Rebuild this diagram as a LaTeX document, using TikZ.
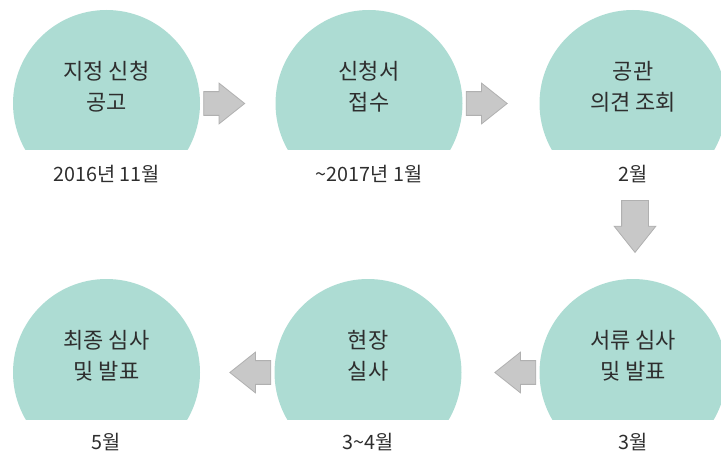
\documentclass[tikz,border=0pt]{standalone}
\usepackage{fontspec}
\setmainfont{Noto Sans CJK KR}
\usetikzlibrary{positioning, shapes.arrows}

\definecolor{stagegreen}{HTML}{ADDCD3}
\definecolor{arrowgray}{HTML}{C8C8C8}
\definecolor{arrowline}{HTML}{B0B0B0}
\definecolor{textgray}{HTML}{2E2E2E}

\begin{document}
\begin{tikzpicture}[x=0.75pt, y=-0.75pt, node distance=2.25pt]

        % Styles
        \tikzstyle{stage} = [circle, fill=stagegreen, minimum size=140.25pt, inner sep=0pt]
        \tikzstyle{stagetitle} = [text=textgray, align=center, inner sep=0pt, font=\fontsize{16.5}{23.25}\selectfont]
        \tikzstyle{stagedate} = [text=textgray, inner sep=0pt, font=\fontsize{14.8}{16}\selectfont]
        \tikzstyle{flow} = [single arrow, fill=arrowgray, draw=arrowline, line width=0.6pt, inner xsep=0pt, inner ysep=8.6pt, minimum height=30.75pt, single arrow head extend=6.4pt, single arrow tip angle=77]

        \clip (0,0) rectangle (721,456);

        % Circles (cut flat at the bottom)
        \begin{scope}
            \clip (0,0) rectangle (721,150);
            \node [stage] (notice) at (106.5,103.5) {};
            \node [stage] (apply) at (369,103.5) {};
            \node [stage] (opinion) at (633,103.5) {};
        \end{scope}
        \begin{scope}
            \clip (0,270) rectangle (721,419);
            \node [stage] (final) at (106.5,372.5) {};
            \node [stage] (site) at (368,372.5) {};
            \node [stage] (paper) at (633,372.5) {};
        \end{scope}

        % Texts
        \node [stagetitle] (notice-text) at (106.5,86.5) {지정 신청\\공고};
        \node [stagetitle] (apply-text) at (369,86.5) {신청서\\접수};
        \node [stagetitle] (opinion-text) at (633,86.5) {공관\\의견 조회};
        \node [stagetitle] (final-text) at (106.5,355.5) {최종 심사\\및 발표};
        \node [stagetitle] (site-text) at (368,355.5) {현장\\실사};
        \node [stagetitle] (paper-text) at (633,355.5) {서류 심사\\및 발표};

        \node [stagedate] (notice-date) at (106.5,174.5) {2016년 11월};
        \node [stagedate] (apply-date) at (369,174.5) {\textasciitilde 2017년 1월};
        \node [stagedate] (opinion-date) at (633,174.5) {2월};
        \node [stagedate] (final-date) at (106.5,442.5) {5월};
        \node [stagedate] (site-date) at (368,442.5) {3\textasciitilde 4월};
        \node [stagedate] (paper-date) at (633,442.5) {3월};

        % Arrows
        \node [flow, right=of notice] (notice-apply) {};
        \node [flow, right=of apply] (apply-opinion) {};
        \node [flow, rotate=-90, minimum height=39pt, inner ysep=9.75pt, single arrow head extend=5.6pt] (opinion-paper) at (635,218) {};
        \node [flow, shape border rotate=180, left=of paper] (paper-site) {};
        \node [flow, shape border rotate=180, left=of site] (site-final) {};

\end{tikzpicture}
\end{document}
